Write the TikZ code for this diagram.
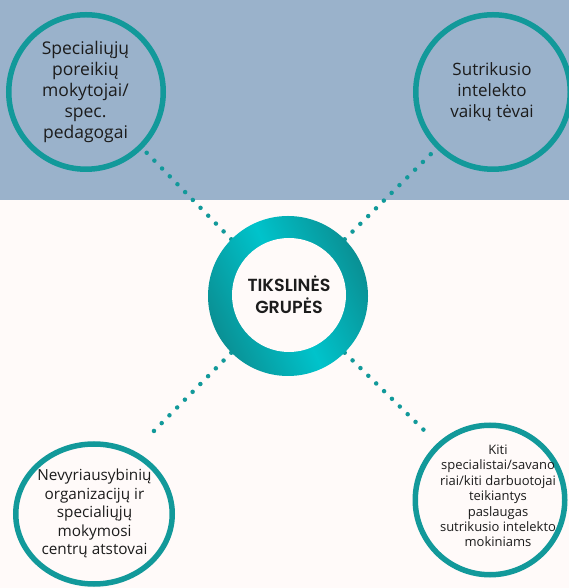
\documentclass[tikz,border=0pt]{standalone}
\usepackage{fontspec}
\setmainfont{Open Sans}
\newfontfamily\hubfont{Poppins}[UprightFont={* SemiBold}]
\usetikzlibrary{shapes.geometric,positioning,backgrounds}

\definecolor{bandblue}{HTML}{9AB2CB}
\definecolor{paper}{HTML}{FFFAF9}
\definecolor{ringteal}{HTML}{12999A}
\definecolor{tealdark}{HTML}{0A9094}
\definecolor{tealbright}{HTML}{00C3CB}
\definecolor{inktext}{HTML}{1C1C1C}

\begin{document}
\begin{tikzpicture}[x=1pt, y=1pt,
  circ/.style={circle, draw=ringteal, line width=5.5pt, minimum size=154.5pt, inner sep=0pt},
  lbl/.style={align=center, text=inktext, inner sep=0pt},
  dotline/.style={draw=ringteal, line width=4.5pt, line cap=round, dash pattern=on 0pt off 11pt},
  ringouter/.style={circle, minimum size=160pt, inner sep=0pt, top color=tealdark, bottom color=tealdark, middle color=tealbright, shading angle=115},
  ringinner/.style={circle, minimum size=114pt, inner sep=0pt, fill=paper, align=center, text=inktext}
]
\clip (0,0) rectangle (569,588);

% Hub ring
\node[ringouter] (hub) at (288,292) {};
\node[ringinner, font=\hubfont\fontsize{17.5}{22}\selectfont] (hubtext) at (289,293) {TIKSLINĖS\\GRUPĖS};

% Target groups
\node[circ] (tl) at (86,496) {};
\node[circ] (tr) at (493,496) {};
\node[circ, ellipse, minimum width=156.5pt, minimum height=140pt] (bl) at (94,74) {};
\node[circ, minimum size=149.5pt] (br) at (490,88) {};

% Labels
\node[lbl, font=\fontsize{17.5}{20.8}\selectfont] (tllabel) at (85.5,496) {Specialiųjų\\poreikių\\mokytojai/\\spec.\\pedagogai};
\node[lbl, font=\fontsize{17}{21}\selectfont] (trlabel) at (492,496) {Sutrikusio\\intelekto\\vaikų tėvai};
\node[lbl, font=\fontsize{15.3}{18.5}\selectfont] (bllabel) at (94.5,74.5) {Nevyriausybinių\\organizacijų ir\\specialiųjų\\mokymosi\\centrų atstovai};
\node[lbl, font=\fontsize{13}{15.4}\selectfont] (brlabel) at (498,92) {Kiti\\specialistai/savano\\riai/kiti darbuotojai\\teikiantys\\paslaugas\\sutrikusio intelekto\\mokiniams};

% Ends of the lower dotted lines
\coordinate (blend) at (147,150);
\coordinate (brend) at (431,151);

% Background and dotted connections
\begin{scope}[on background layer]
\fill[paper] (0,0) rectangle (569,588);
\fill[bandblue] (0,388) rectangle (569,588);
\draw[dotline] (hub.135) -- (tl.-45);
\draw[dotline] (hub.45) -- (tr.-135);
\draw[dotline] (hub.-135) -- (blend);
\draw[dotline] (hub.-45) -- (brend);
\end{scope}

\end{tikzpicture}
\end{document}
